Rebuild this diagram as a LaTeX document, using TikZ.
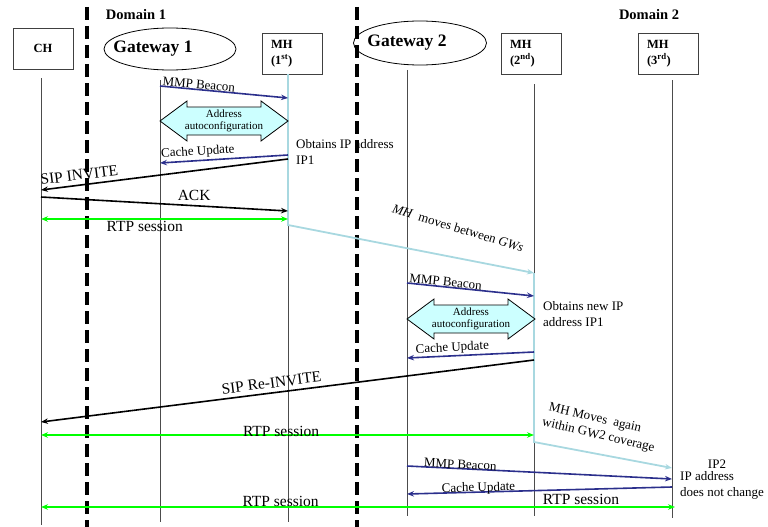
\documentclass[tikz,border=0pt]{standalone}
\usepackage{fontspec}
\setmainfont{Liberation Serif}
\usetikzlibrary{arrows.meta,shapes.geometric}

\definecolor{beaconblue}{RGB}{43,47,140}
\definecolor{rtpgreen}{RGB}{0,255,0}
\definecolor{pathblue}{RGB}{168,216,224}
\definecolor{configfill}{RGB}{204,255,255}

\tikzset{
	hostbox/.style={draw=black!75, line width=0.9pt, minimum width=60pt, minimum height=41pt, inner sep=0pt, font=\bfseries\fontsize{12.5}{16}\selectfont},
	gwnode/.style={ellipse, draw, line width=0.8pt, inner sep=0pt},
	gwtext/.style={font=\bfseries\fontsize{17.5}{20}\selectfont},
	domaintext/.style={font=\bfseries\fontsize{14.5}{17}\selectfont},
	lifeline/.style={draw=black!70, line width=0.8pt},
	domainline/.style={line width=3.2pt, dash pattern=on 13pt off 6pt},
	msg/.style={->, line width=1.6pt},
	beacon/.style={msg, draw=beaconblue},
	sip/.style={msg, draw=black},
	rtp/.style={<->, line width=1.8pt, draw=rtpgreen},
	move/.style={->, line width=1.8pt, draw=pathblue},
	autoconf/.style={draw, line width=0.8pt, fill=configfill},
	smalltext/.style={font=\fontsize{13}{16}\selectfont, inner sep=1pt},
	bigtext/.style={font=\fontsize{15.5}{18}\selectfont, inner sep=1pt},
}

\begin{document}
\begin{tikzpicture}[x=1pt, y=-1pt, >={Stealth[length=7pt,width=5.5pt]}]
	\useasboundingbox (0,0) rectangle (768,527);

	% domain borders
	\draw[domainline] (87,7) -- (87,527);
	\draw[domainline] (357,7) -- (357,527);

	% hosts and gateways
	\node[hostbox] (ch) at (43,48.5) {CH};
	\node[gwnode, minimum width=132pt, minimum height=42pt, label={[gwtext, xshift=-17pt]center:Gateway 1}] (gw1) at (170,49) {};
	\node[hostbox, align=left, text width=42pt] (mh1) at (292,53.5) {MH\\(1\textsuperscript{st})};
	\node[gwnode, minimum width=133pt, minimum height=44pt, label={[gwtext, xshift=-13pt]center:Gateway 2}] (gw2) at (420,43) {};
	\node[hostbox, align=left, text width=42pt] (mh2) at (531,53.5) {MH\\(2\textsuperscript{nd})};
	\node[hostbox, align=left, text width=42pt] (mh3) at (668,53.5) {MH\\(3\textsuperscript{rd})};
	\node[domaintext] (dom1) at (136,15) {Domain 1};
	\node[domaintext] (dom2) at (649,15) {Domain 2};

	% lifelines
	\coordinate (chtop) at (41,78);
	\coordinate (gw1top) at (160,80);
	\coordinate (mh1top) at (288,74);
	\coordinate (gw2top) at (407,70);
	\coordinate (mh2top) at (534,84);
	\coordinate (mh3top) at (672,80);
	\draw[lifeline] (chtop) -- (chtop |- 0,525);
	\draw[lifeline] (gw1top) -- (gw1top |- 0,522);
	\draw[lifeline] (mh1top) -- (mh1top |- 0,522);
	\draw[lifeline] (gw2top) -- (gw2top |- 0,516);
	\draw[lifeline] (mh2top) -- (mh2top |- 0,516);
	\draw[lifeline] (mh3top) -- (mh3top |- 0,518);

	% mobile host path
	\draw[move] (mh1top) -- (mh1top |- 0,225) -- (mh2top |- 0,273);
	\draw[move] (mh2top |- 0,273) -- (mh2top |- 0,442) -- (mh3top |- 0,468);
	\node[smalltext, rotate=-17] (move1) at (458,228) {\textit{MH}\ \ moves between \textit{GWs}};
	\node[smalltext, rotate=-13, align=left] (move2) at (600,428) {\ MH Moves\ \ again\\within GW2 coverage};

	% address autoconfiguration
	\foreach \xa/\xb/\yc/\nm in {160/288/121/1, 407/535/319/2}{
		\draw[autoconf] (\xa,\yc) -- (\xa+27,\yc-20) -- (\xa+27,\yc-14) -- (\xb-27,\yc-14) -- (\xb-27,\yc-20)
			-- (\xb,\yc) -- (\xb-27,\yc+20) -- (\xb-27,\yc+14) -- (\xa+27,\yc+14) -- (\xa+27,\yc+20) -- cycle;
		\node[font=\fontsize{11}{11.5}\selectfont, align=center] (conf\nm) at ({(\xa+\xb)/2},\yc) {Address\\autoconfiguration};
	}

	% first gateway
	\draw[beacon] (gw1top |- 0,86) -- node[smalltext, pos=0.3, above=-1pt, sloped] (beacon1) {MMP Beacon} (mh1top |- 0,98);
	\draw[beacon] (mh1top |- 0,155) -- node[smalltext, pos=0.7, above=1pt, sloped] (cache1) {Cache Update} (gw1top |- 0,163);
	\node[smalltext, align=left, anchor=north west] (ip1) at (295,138) {Obtains IP address\\IP1};
	\draw[sip] (mh1top |- 0,159) -- node[bigtext, pos=0.84, above=3pt, sloped] (invite) {SIP INVITE} (chtop |- 0,190);
	\draw[sip] (chtop |- 0,197) -- node[bigtext, pos=0.62, above=3pt] (ack) {ACK} (mh1top |- 0,211);
	\draw[rtp] (chtop |- 0,219) -- node[bigtext, pos=0.42, below=0pt] (rtp1) {RTP session} (mh1top |- 0,219);

	% second gateway
	\draw[beacon] (gw2top |- 0,283) -- node[smalltext, pos=0.3, above=-1pt, sloped] (beacon2) {MMP Beacon} (mh2top |- 0,296);
	\node[smalltext, align=left, anchor=north west] (ip2) at (542,300) {Obtains new IP\\address IP1};
	\draw[beacon] (mh2top |- 0,352) -- node[smalltext, pos=0.64, above=0pt, sloped] (cache2) {Cache Update} (gw2top |- 0,358);
	\draw[sip] (mh2top |- 0,360) -- node[bigtext, pos=0.53, above=3pt, sloped] (reinvite) {SIP Re-INVITE} (chtop |- 0,422);
	\draw[rtp] (chtop |- 0,435) -- node[bigtext, pos=0.487, yshift=4pt] (rtp2) {RTP session} (mh2top |- 0,435);

	% moving within the second gateway
	\draw[beacon] (gw2top |- 0,466) -- node[smalltext, pos=0.2, above=-2pt, sloped] (beacon3) {MMP Beacon} (mh3top |- 0,479);
	\node[smalltext] (ipnew) at (717,464) {IP2};
	\node[smalltext, align=left, anchor=north west] (ipsame) at (679,470) {IP address\\does not change};
	\draw[beacon] (mh3top |- 0,487) -- node[smalltext, pos=0.73, above=-4pt, sloped] (cache3) {Cache Update} (gw2top |- 0,494);
	\draw[rtp] (chtop |- 0,507) -- node[bigtext, pos=0.378, yshift=6pt] (rtp3) {RTP session} (675,507);
	\node[bigtext] (rtp4) at (581,499) {RTP session};
\end{tikzpicture}
\end{document}
